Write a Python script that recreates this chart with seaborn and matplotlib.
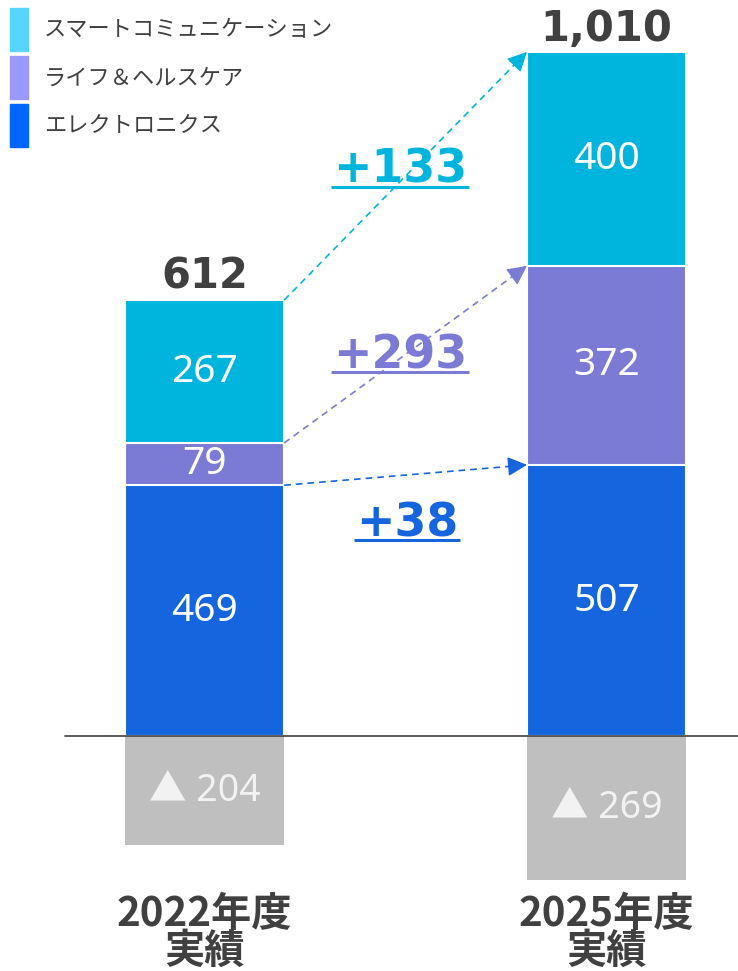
import numpy as np
import matplotlib
matplotlib.use('Agg')
import matplotlib.pyplot as plt
import seaborn as sns
from matplotlib.patches import Rectangle

# data
years = ['2022年度', '2025年度']
sub_label = '実績'
segments = ['エレクトロニクス', 'ライフ＆ヘルスケア', 'スマートコミュニケーション']
electronics = [469, 507]
life_health = [79, 372]
smart_comm = [267, 400]
adjustment = [-204, -269]
totals = [612, 1010]

bar_colors = ['#1565DF', '#7B7BD6', '#00B5DD']
legend_colors = ['#0066FF', '#9999FF', '#55D5FF']
gray = '#BFBFBF'
dark = '#404040'

sns.set_style('white')
plt.rcParams['font.family'] = ['Noto Sans CJK JP', 'DejaVu Sans']

W, H = 738, 971
fig = plt.figure(figsize=(W / 100, H / 100), dpi=100)
ax = fig.add_axes([0, 0, 1, 1])

bar_w = 0.396
layers = np.array([electronics, life_health, smart_comm])
cum = np.cumsum(layers, axis=0)

# stacked bars: draw cumulative heights from the top layer down
for k in range(len(segments) - 1, -1, -1):
    sns.barplot(x=years, y=cum[k], color=bar_colors[k], saturation=1,
                width=bar_w, edgecolor='white', linewidth=1.5, ax=ax)
sns.barplot(x=years, y=adjustment, color=gray, saturation=1,
            width=bar_w, linewidth=0, ax=ax)

ax.set_xlim(-0.509, 1.327)
ax.set_ylim(-439, 1376)
ax.axis('off')
ax.axhline(0, xmin=65 / W, xmax=1, color=dark, lw=1.2, zorder=5)

num_font = ['Noto Sans', 'Noto Sans CJK JP', 'DejaVu Sans']

# segment values, totals and category labels
for i in range(len(years)):
    for k in range(len(segments)):
        ax.text(i, cum[k][i] - layers[k][i] / 2, f'{layers[k][i]}', color='white',
                fontsize=28, ha='center', va='center', family=num_font, zorder=6)
    ax.text(i, adjustment[i] / 2, f'▲ {-adjustment[i]}', color='#F2F2F2',
            fontsize=27, ha='center', va='center', family=num_font, zorder=6)
    ax.text(i, cum[-1][i] + 21, f'{totals[i]:,}', color=dark, fontsize=30,
            fontweight='bold', ha='center', va='baseline', family=['DejaVu Sans'])
    ax.text(i, -333, years[i], color=dark, fontsize=29, fontweight='bold',
            ha='center', va='center')
    ax.text(i, -403, sub_label, color=dark, fontsize=29, fontweight='bold',
            ha='center', va='center')

# arrows between stacks
for k in range(len(segments)):
    x0, y0 = 0 + bar_w / 2, cum[k][0]
    x1, y1 = 1 - bar_w / 2, cum[k][1]
    ax.plot([x0, x1], [y0, y1], ls=(0, (4, 3)), color=bar_colors[k], lw=1.2, zorder=4)
    xb, yb = x0 + 0.95 * (x1 - x0), y0 + 0.95 * (y1 - y0)
    ax.annotate('', xy=(x1, y1), xytext=(xb, yb),
                arrowprops=dict(arrowstyle='-|>', color=bar_colors[k], lw=1.0,
                                mutation_scale=30, shrinkA=0, shrinkB=0), zorder=4)

# change labels with underline
delta_pos = [(0.504, 374), (0.486, 688), (0.486, 1034)]
delta_texts = []
for k in range(len(segments)):
    d = layers[k][1] - layers[k][0]
    t = ax.text(delta_pos[k][0], delta_pos[k][1], f'+{d}', color=bar_colors[k],
                fontsize=33, fontweight='bold', ha='center', va='baseline',
                family=['DejaVu Sans'])
    delta_texts.append(t)

fig.canvas.draw()
inv = ax.transData.inverted()
for k, t in enumerate(delta_texts):
    bb = t.get_window_extent()
    xa = inv.transform((bb.x0 - 2, 0))[0]
    xb = inv.transform((bb.x1 + 2, 0))[0]
    yl = delta_pos[k][1] - 8
    ax.plot([xa, xb], [yl, yl], color=bar_colors[k], lw=2.2, solid_capstyle='butt')

# legend
leg_top = [8, 56, 104]
for j, k in enumerate([2, 1, 0]):
    y0 = leg_top[j]
    fig.patches.append(Rectangle((10 / W, 1 - (y0 + 43) / H), 18 / W, 43 / H,
                                 transform=fig.transFigure, color=legend_colors[k]))
    fig.text(44 / W, 1 - (y0 + 22) / H, segments[k], color=dark, fontsize=16,
             ha='left', va='center')

fig.savefig('out.png', dpi=100)
